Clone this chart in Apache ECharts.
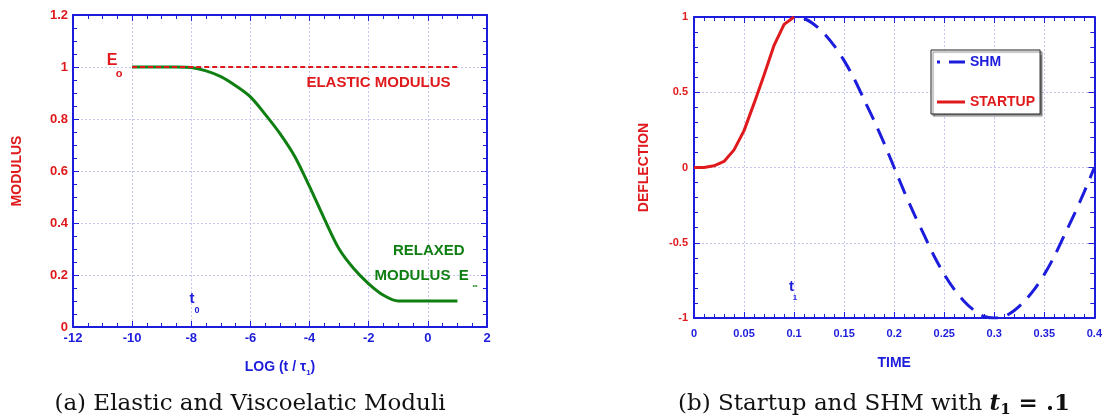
<!DOCTYPE html>
<html>
<head>
<meta charset="utf-8">
<title>Moduli and startup deflection</title>
<script src="https://cdn.jsdelivr.net/npm/echarts@6/dist/echarts.min.js"></script>
<style>
    html, body { margin: 0; padding: 0; background: #fff; }
    #chart { width: 1105px; height: 420px; }
</style>
</head>
<body>
<div id="chart"></div>
<script>
    // (a) modulus against log(t / tau1)
    const logTime = [-10, -9.5, -9, -8.5, -8, -7.5, -7, -6.5, -6, -5.5, -5, -4.5, -4, -3.5, -3, -2.5, -2, -1.5, -1, -0.5, 0, 0.5, 1]
    const relaxedModulus = [1, 1, 1, 1, 0.998, 0.985, 0.963, 0.928, 0.885, 0.818, 0.744, 0.656, 0.54, 0.416, 0.3, 0.224, 0.166, 0.122, 0.1, 0.1, 0.1, 0.1, 0.1]
    const elasticTime = [-10, 1]
    const elasticModulus = [1, 1]

    // (b) deflection against time
    const startupTime = [0, 0.01, 0.02, 0.03, 0.04, 0.05, 0.06, 0.07, 0.08, 0.09, 0.1]
    const startupDeflection = [0, 0, 0.011, 0.04, 0.117, 0.245, 0.426, 0.614, 0.812, 0.951, 1]
    const shmTime = [0.1, 0.11, 0.12, 0.13, 0.14, 0.15, 0.16, 0.17, 0.18, 0.19, 0.2,
        0.21, 0.22, 0.23, 0.24, 0.25, 0.26, 0.27, 0.28, 0.29, 0.3,
        0.31, 0.32, 0.33, 0.34, 0.35, 0.36, 0.37, 0.38, 0.39, 0.4]
    const shmDeflection = [1, 0.99, 0.95, 0.89, 0.81, 0.71, 0.59, 0.45, 0.31, 0.16, 0,
        -0.16, -0.31, -0.45, -0.59, -0.71, -0.81, -0.89, -0.95, -0.99, -1,
        -0.99, -0.95, -0.89, -0.81, -0.71, -0.59, -0.45, -0.31, -0.16, 0]

    const BLUE = '#1c1cdc'
    const RED = '#e0191c'
    const GREEN = '#0f7f12'
    const SANS = '"Liberation Sans", Arial, sans-serif'
    const SERIF = '"DejaVu Serif", serif'

    const pairs = (xs, ys) => xs.map((x, i) => [x, ys[i]])

    // text notes placed in data coordinates: [text, x, y, colour, size]
    const notesA = [
        ['E', -10.68, 1.023, RED, 16],
        ['o', -10.44, 0.974, RED, 11],
        ['ELASTIC MODULUS', -1.67, 0.94, RED, 15],
        ['RELAXED', 0.03, 0.292, GREEN, 15],
        ['MODULUS  E', -0.21, 0.196, GREEN, 15],
        ['\u221e', 1.59, 0.158, GREEN, 7],
        ['t', -7.98, 0.108, BLUE, 15],
        ['0', -7.81, 0.065, BLUE, 9]
    ]
    const notesB = [
        ['t', 0.0973, -0.794, BLUE, 15],
        ['1', 0.101, -0.864, BLUE, 8]
    ]

    function noteSeries(notes, xi, yi) {
        return {
            type: 'scatter', xAxisIndex: xi, yAxisIndex: yi, silent: true, z: 10,
            symbolSize: 1, itemStyle: { color: 'transparent', opacity: 1 },
            data: notes.map(n => ({
                value: [n[1], n[2]],
                label: { show: true, position: 'inside', formatter: n[0], color: n[3], fontSize: n[4],
                    fontWeight: 'bold', fontFamily: SANS, opacity: 1, textBorderWidth: 0 }
            }))
        }
    }

    // one side of a framed plot box
    function side(grid, pos, min, max, interval, minorSplit, label) {
        const ax = {
            gridIndex: grid, position: pos, type: 'value', min: min, max: max, interval: interval,
            axisLine: { show: true, onZero: false, lineStyle: { color: BLUE, width: 2 } },
            axisTick: { show: true, inside: true, length: 6, lineStyle: { color: BLUE, width: 1 } },
            minorTick: { show: true, splitNumber: minorSplit, length: 4, lineStyle: { color: BLUE, width: 1 } },
            axisLabel: { show: false },
            splitLine: { show: false }
        }
        if (label) {
            ax.axisLabel = { show: true, color: label.color, fontSize: label.size, fontWeight: 'bold',
                fontFamily: SANS, margin: label.margin }
            ax.splitLine = { show: true, lineStyle: { color: '#c6c6f4', width: 1, type: [2, 2] } }
            ax.name = label.name
            ax.nameLocation = 'middle'
            ax.nameGap = label.gap
            ax.nameTextStyle = Object.assign({ color: label.color, fontSize: 14, fontWeight: 'bold',
                fontFamily: SANS }, label.nameStyle || {})
        }
        return ax
    }

    const chart = echarts.init(document.getElementById('chart'))
    chart.setOption({
        animation: false,
        backgroundColor: '#fff',
        grid: [
            { left: 73, top: 15, width: 414, height: 312 },
            { left: 694, top: 17, width: 403, height: 301 }
        ],
        xAxis: [
            side(0, 'bottom', -12, 2, 2, 4, {
                color: BLUE, size: 13, margin: 5, gap: 30, name: 'LOG (t / \u03c4{s|1})',
                nameStyle: { lineHeight: 20, rich: { s: { fontSize: 8, fontWeight: 'bold', color: BLUE,
                    fontFamily: SANS, lineHeight: 8, verticalAlign: 'bottom' } } }
            }),
            side(0, 'top', -12, 2, 2, 4),
            side(1, 'bottom', 0, 0.4, 0.05, 5, { color: BLUE, size: 11, margin: 10, gap: 38, name: 'TIME' }),
            side(1, 'top', 0, 0.4, 0.05, 5)
        ],
        yAxis: [
            side(0, 'left', 0, 1.2, 0.2, 4, { color: RED, size: 13, margin: 5, gap: 49, name: 'MODULUS' }),
            side(0, 'right', 0, 1.2, 0.2, 4),
            side(1, 'left', -1, 1, 0.5, 5, { color: RED, size: 11, margin: 6, gap: 43, name: 'DEFLECTION' }),
            side(1, 'right', -1, 1, 0.5, 5)
        ],
        legend: {
            orient: 'vertical', left: 931, top: 50,
            itemWidth: 28, itemHeight: 14, itemGap: 26,
            padding: [5, 5, 5, 6],
            backgroundColor: '#fff', borderColor: '#222', borderWidth: 1,
            shadowColor: 'rgba(0,0,0,0.45)', shadowOffsetX: 2, shadowOffsetY: 2, shadowBlur: 1,
            textStyle: { fontSize: 14, fontWeight: 'bold', fontFamily: SANS },
            data: [
                { name: 'SHM', icon: 'path://M0,0h3v3h-3z M12,0h16v3h-16z', textStyle: { color: BLUE } },
                { name: 'STARTUP', icon: 'path://M0,0h28v3h-28z', textStyle: { color: RED } }
            ]
        },
        series: [
            {
                name: 'RELAXED', type: 'line', xAxisIndex: 0, yAxisIndex: 0,
                data: pairs(logTime, relaxedModulus), symbol: 'none', smooth: 0.3,
                lineStyle: { color: GREEN, width: 3 }
            },
            {
                name: 'ELASTIC', type: 'line', xAxisIndex: 0, yAxisIndex: 0,
                data: pairs(elasticTime, elasticModulus), symbol: 'none', z: 3,
                lineStyle: { color: RED, width: 2, type: [5, 3] }
            },
            {
                name: 'STARTUP', type: 'line', xAxisIndex: 2, yAxisIndex: 2,
                data: pairs(startupTime, startupDeflection), symbol: 'none',
                itemStyle: { color: RED },
                lineStyle: { color: RED, width: 3 }
            },
            {
                name: 'SHM', type: 'line', xAxisIndex: 2, yAxisIndex: 2,
                data: pairs(shmTime, shmDeflection), symbol: 'none', smooth: 0.3,
                itemStyle: { color: BLUE },
                lineStyle: { color: BLUE, width: 3, type: [17, 10], dashOffset: 17 }
            },
            noteSeries(notesA, 0, 0),
            noteSeries(notesB, 2, 2)
        ],
        graphic: [
            {
                type: 'text', x: 250, y: 404,
                style: { text: '(a) Elastic and Viscoelatic Moduli', fill: '#111', fontSize: 23,
                    fontFamily: SERIF, align: 'center', verticalAlign: 'middle' }
            },
            {
                type: 'text', x: 874, y: 404,
                style: {
                    text: '(b) Startup and SHM with {t|t}{s|1}{b| = .1}', fill: '#111', fontSize: 23,
                    fontFamily: SERIF, align: 'center', verticalAlign: 'middle', lineHeight: 28,
                    rich: {
                        t: { fontSize: 23, fontFamily: SERIF, fontWeight: 'bold', fontStyle: 'italic', lineHeight: 28 },
                        s: { fontSize: 15, fontFamily: SERIF, fontWeight: 'bold', lineHeight: 15, verticalAlign: 'bottom' },
                        b: { fontSize: 23, fontFamily: SERIF, fontWeight: 'bold', lineHeight: 28 }
                    }
                }
            }
        ]
    })
</script>
</body>
</html>
